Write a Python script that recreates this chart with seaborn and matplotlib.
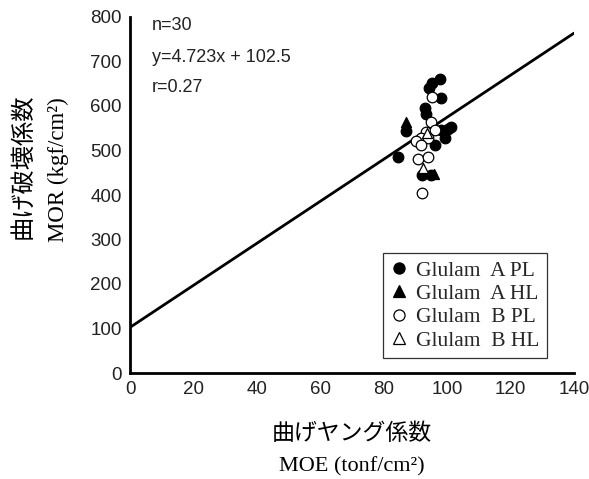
import numpy as np
import pandas as pd
import matplotlib
matplotlib.use("Agg")
import matplotlib.pyplot as plt
from matplotlib.lines import Line2D
import seaborn as sns

# MOE (tonf/cm2) and MOR (kgf/cm2) per specimen group
a_pl_moe = [97.8, 95.3, 94.3, 98.1, 92.9, 93.4, 87.1, 98.2, 101.2, 99.2, 96.1, 84.5, 92.0, 95.0, 100.3]
a_pl_mor = [661, 651, 641, 619, 596, 581, 544, 545, 552, 527, 512, 486, 446, 446, 548]
a_hl_moe = [87.1, 96.0]
a_hl_mor = [563, 447]
b_pl_moe = [95.3, 95.0, 93.4, 96.1, 91.9, 90.3, 94.0, 91.7, 90.8, 94.0, 92.2]
b_pl_mor = [621, 563, 542, 546, 529, 521, 527, 512, 482, 486, 404]
b_hl_moe = [92.4, 93.5]
b_hl_mor = [460, 540]

group_names = ["Glulam  A PL", "Glulam  A HL", "Glulam  B PL", "Glulam  B HL"]

# regression y = slope * x + intercept
slope = 4.723
intercept = 102.5
n_samples = 30
r_value = 0.27

x_ticks = [0, 20, 40, 60, 80, 100, 120, 140]
y_ticks = [0, 100, 200, 300, 400, 500, 600, 700, 800]

df = pd.DataFrame({
    "MOE": a_pl_moe + a_hl_moe + b_pl_moe + b_hl_moe,
    "MOR": a_pl_mor + a_hl_mor + b_pl_mor + b_hl_mor,
    "group": ([group_names[0]] * len(a_pl_moe) + [group_names[1]] * len(a_hl_moe)
              + [group_names[2]] * len(b_pl_moe) + [group_names[3]] * len(b_hl_moe)),
})

sns.set_theme(style="white")
plt.rcParams["font.family"] = ["Liberation Sans", "DejaVu Sans"]

W, H = 589, 479
fig = plt.figure(figsize=(W / 100, H / 100), dpi=100)
ax = fig.add_axes([130 / W, 1 - 373 / H, (574 - 130) / W, (373 - 17) / H])

styles = {
    group_names[0]: dict(marker="o", face="black", s=58),
    group_names[1]: dict(marker="^", face="black", s=52),
    group_names[2]: dict(marker="o", face="white", s=58),
    group_names[3]: dict(marker="^", face="white", s=52),
}

# regression line over the full axis range
line_x = np.array([x_ticks[0], x_ticks[-1]], dtype=float)
line_df = pd.DataFrame({"MOE": line_x, "MOR": slope * line_x + intercept})
sns.lineplot(data=line_df, x="MOE", y="MOR", color="black", lw=2.0, ax=ax, zorder=2)

for g in group_names:
    st = styles[g]
    sub = df[df["group"] == g]
    sns.scatterplot(data=sub, x="MOE", y="MOR", marker=st["marker"], s=st["s"],
                    color=st["face"], edgecolor="black", linewidth=0.9, ax=ax, zorder=3)

ax.set_xlim(x_ticks[0], x_ticks[-1])
ax.set_ylim(y_ticks[0], y_ticks[-1])
ax.set_xticks(x_ticks)
ax.set_yticks(y_ticks)
ax.set_xlabel("")
ax.set_ylabel("")
for sp in ["top", "right"]:
    ax.spines[sp].set_visible(False)
for sp in ["left", "bottom"]:
    ax.spines[sp].set_linewidth(2.0)
    ax.spines[sp].set_color("black")
ax.tick_params(direction="in", length=4, width=1.6, colors="black",
               labelsize=13.5, pad=6)
for lab in ax.get_xticklabels() + ax.get_yticklabels():
    lab.set_color("#222222")

# statistics
stat_kw = dict(fontsize=13, color="#222222", ha="left", va="center",
               family=["Liberation Sans", "DejaVu Sans"])
fig.text(152 / W, 1 - 25 / H, f"n={n_samples}", **stat_kw)
fig.text(152 / W, 1 - 57 / H, f"y={slope}x + {intercept}", **stat_kw)
fig.text(152 / W, 1 - 88 / H, f"r={r_value}", **stat_kw)

# axis titles (Japanese + English)
jp = ["Noto Sans CJK JP", "DejaVu Sans"]
serif = ["Liberation Serif", "DejaVu Serif"]
fig.text(352 / W, 1 - 433 / H, "曲げヤング係数", family=jp, fontsize=16.5,
         ha="center", va="center", color="black")
fig.text(352 / W, 1 - 467 / H, "MOE (tonf/cm²)", family=serif, fontsize=16,
         ha="center", va="center", color="black")
fig.text(22 / W, 1 - 166 / H, "曲げ破壊係数", family=jp, fontsize=17.5,
         ha="center", va="center", rotation=90, color="black")
fig.text(58 / W, 1 - 170 / H, "MOR (kgf/cm²)", family=serif, fontsize=16.5,
         ha="center", va="center", rotation=90, color="black")

handles = [Line2D([], [], ls="none", marker=styles[g]["marker"], markersize=8,
                  markerfacecolor=styles[g]["face"], markeredgecolor="black",
                  markeredgewidth=0.9) for g in group_names]
leg = fig.legend(handles, group_names, loc="upper left",
                 bbox_to_anchor=(383 / W, 1 - 253 / H),
                 prop={"family": serif, "size": 15.5}, frameon=True, fancybox=False,
                 edgecolor="black", handlelength=0.8, handletextpad=0.4,
                 labelspacing=0.15, borderpad=0.35, borderaxespad=0)
leg.get_frame().set_linewidth(0.9)

fig.savefig("out.png", dpi=100, facecolor="white")
